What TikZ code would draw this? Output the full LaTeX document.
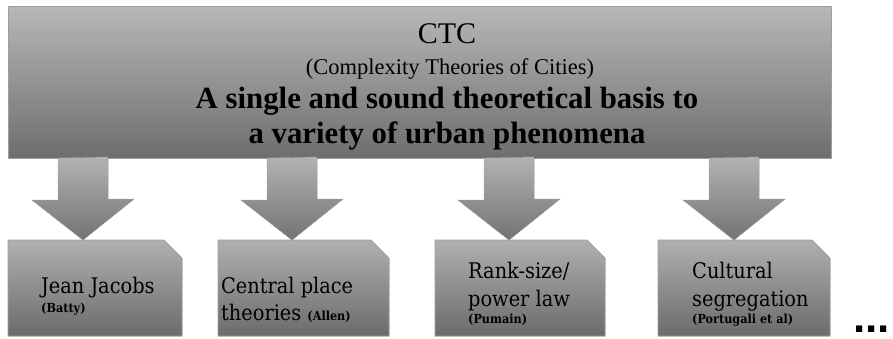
\documentclass[tikz,border=0pt]{standalone}
\usepackage{fontspec}
\setmainfont{Liberation Serif}
\newfontfamily\boxfont{DejaVu Serif Condensed}
\newfontfamily\dotfont{Liberation Sans}
\begin{document}
\begin{tikzpicture}[x=1pt,y=-1pt,
  topshade/.style={top color=black!28,bottom color=black!57,draw=black!38,line width=0.6pt},
  arrowshade/.style={top color=black!30,bottom color=black!55,draw=black!35,line width=0.4pt},
  boxshade/.style={top color=black!31,bottom color=black!58,draw=black!38,line width=0.6pt},
  placeholder/.style={rectangle,inner sep=0pt,outer sep=0pt,anchor=north west},
  bigtxt/.style={font=\fontsize{30}{34}\selectfont,inner sep=0pt},
  subtxt/.style={font=\fontsize{22.5}{26}\selectfont,inner sep=0pt},
  boldtxt/.style={font=\fontsize{30.8}{34}\selectfont\bfseries,inner sep=0pt},
  lbl/.style={font=\boxfont\fontsize{21.5}{24}\selectfont,inner sep=0pt,anchor=base west},
  small/.style={font=\boxfont\fontsize{12.5}{14}\selectfont\bfseries,inner sep=0pt,anchor=base west}
]
\useasboundingbox (0,0) rectangle (893,338);
% top box
\node[placeholder,topshade,minimum width=823pt,minimum height=152pt] (top) at (8,6) {};
\node[bigtxt,anchor=base] (t1) at (447,43) {CTC};
\node[subtxt,anchor=base] (t2) at (450,74) {(Complexity Theories of Cities)};
\node[boldtxt,anchor=base] (t3) at (447,108) {A single and sound theoretical basis to};
\node[boldtxt,anchor=base] (t4) at (447,143) {a variety of urban phenomena};
% bottom boxes
\foreach \n/\x/\w in {1/8/174,2/218/171,3/435/170,4/658/172}{
  \node[placeholder,minimum width=\w pt,minimum height=96pt] (b\n) at (\x,240) {};
  \fill[boxshade] (b\n.south west) -- (b\n.north west) -- ([xshift=-18pt]b\n.north east)
     -- ([yshift=-18pt]b\n.north east) -- (b\n.south east) -- cycle;
}
% arrows
\foreach \n/\cx in {1/83,2/292,3/509,4/734}{
  \coordinate (s\n) at (\cx,0);
  \fill[arrowshade] (top.south -| s\n) ++(-25,0) -- ++(0,42) -- ++(-26,0)
     -- (b\n.north -| s\n) -- ++(51,-41) -- ++(-26,0) -- ++(0,-42) -- cycle;
}
% labels
\node[lbl] (l1a) at (41,293) {Jean Jacobs};
\node[small] (l1b) at (41,312) {(Batty)};
\node[lbl] (l2a) at (221,293) {Central place};
\node[lbl] (l2b) at (221,320) {theories \fontsize{12.5}{14}\selectfont\bfseries(Allen)};
\node[lbl] (l3a) at (468,278) {Rank-size/};
\node[lbl] (l3b) at (468,306) {power law};
\node[small] (l3c) at (468,323) {(Pumain)};
\node[lbl] (l4a) at (692,278) {Cultural};
\node[lbl] (l4b) at (692,306) {segregation};
\node[small] (l4c) at (692,323) {(Portugali et al)};
\node[font=\dotfont\fontsize{44}{44}\selectfont\bfseries,inner sep=0pt,anchor=base west] (dots) at (853,332) {...};
\end{tikzpicture}
\end{document}
